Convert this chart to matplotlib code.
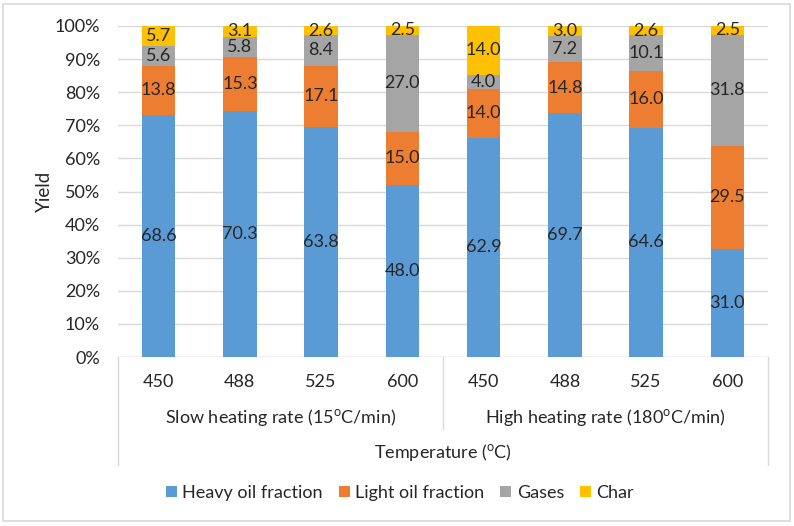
import matplotlib
matplotlib.use("Agg")
import matplotlib.pyplot as plt
from matplotlib.patches import Rectangle, Patch
import matplotlib.transforms as mtransforms
import numpy as np

plt.rcParams['font.family'] = ['Lato', 'DejaVu Sans']

temps = ["450", "488", "525", "600", "450", "488", "525", "600"]
groups = ["Slow heating rate (15$^{\\mathregular{o}}$C/min)", "High heating rate (180$^{\\mathregular{o}}$C/min)"]
series_names = ["Heavy oil fraction", "Light oil fraction", "Gases", "Char"]
heavy = [68.6, 70.3, 63.8, 48.0, 62.9, 69.7, 64.6, 31.0]
light = [13.8, 15.3, 17.1, 15.0, 14.0, 14.8, 16.0, 29.5]
gases = [5.6, 5.8, 8.4, 27.0, 4.0, 7.2, 10.1, 31.8]
char = [5.7, 3.1, 2.6, 2.5, 14.0, 3.0, 2.6, 2.5]
colors = ["#5B9BD5", "#ED7D31", "#A5A5A5", "#FFC000"]
yticks = [0, 10, 20, 30, 40, 50, 60, 70, 80, 90, 100]

W, H = 794, 526
fig = plt.figure(figsize=(W / 100, H / 100), dpi=100)
ax = fig.add_axes([118 / W, 1 - 357 / H, 650 / W, 331 / H])

data = np.array([heavy, light, gases, char])
totals = data.sum(axis=0)
pct = data / totals * 100
x = np.arange(len(temps))
bottom = np.zeros(len(temps))
fs = 13
for i in range(4):
    ax.bar(x, pct[i], 0.41, bottom=bottom, color=colors[i], zorder=2)
    for j in range(len(temps)):
        ax.text(x[j], bottom[j] + pct[i][j] / 2, f"{data[i][j]:.1f}",
                ha="center", va="center", fontsize=fs, color="#262626", zorder=3)
    bottom += pct[i]

ax.set_xlim(-0.5, len(temps) - 0.5)
ax.set_ylim(0, 100)
ax.set_yticks(yticks)
ax.set_yticklabels([f"{v}%" for v in yticks], fontsize=fs, color="#262626")
ax.tick_params(axis="y", length=0, pad=13)
ax.set_xticks([])
ax.grid(axis="y", color="#D9D9D9", linewidth=1, zorder=0)
for s in ["top", "right", "left", "bottom"]:
    ax.spines[s].set_visible(False)
ax.axhline(0, color="#D9D9D9", linewidth=1, zorder=1)
ax.set_ylabel("Yield", fontsize=fs + 0.5, color="#262626", labelpad=1)

trans = mtransforms.blended_transform_factory(ax.transData, ax.transAxes)
for j in range(len(temps)):
    ax.text(x[j], -0.076, temps[j], transform=trans, ha="center", va="center",
            fontsize=fs, color="#262626")
ax.text(1.5, -0.184, groups[0], transform=trans, ha="center", va="center",
        fontsize=fs, color="#262626")
ax.text(5.5, -0.184, groups[1], transform=trans, ha="center", va="center",
        fontsize=fs, color="#262626")
ax.text(3.5, -0.29, "Temperature ($^{\\mathregular{o}}$C)", transform=trans, ha="center",
        va="center", fontsize=fs, color="#262626")
ax.plot([-0.5, -0.5], [0, -0.326], transform=trans, color="#D9D9D9", lw=1, clip_on=False)
ax.plot([7.5, 7.5], [0, -0.326], transform=trans, color="#D9D9D9", lw=1, clip_on=False)
ax.plot([3.5, 3.5], [0, -0.217], transform=trans, color="#D9D9D9", lw=1, clip_on=False)

handles = [Patch(facecolor=c, edgecolor="none") for c in colors]
fig.legend(handles, series_names, loc="center", bbox_to_anchor=(400 / W, 1 - 493 / H),
           ncol=4, frameon=False, fontsize=fs, handlelength=0.6, handleheight=0.6,
           handletextpad=0.3, columnspacing=0.9, labelcolor="#262626")

fig.patches.append(Rectangle((3 / W, 1 - 521 / H), 787 / W, 517 / H, transform=fig.transFigure,
                             fill=False, edgecolor="#D9D9D9", linewidth=1.2))

fig.savefig("out.png", dpi=100)
